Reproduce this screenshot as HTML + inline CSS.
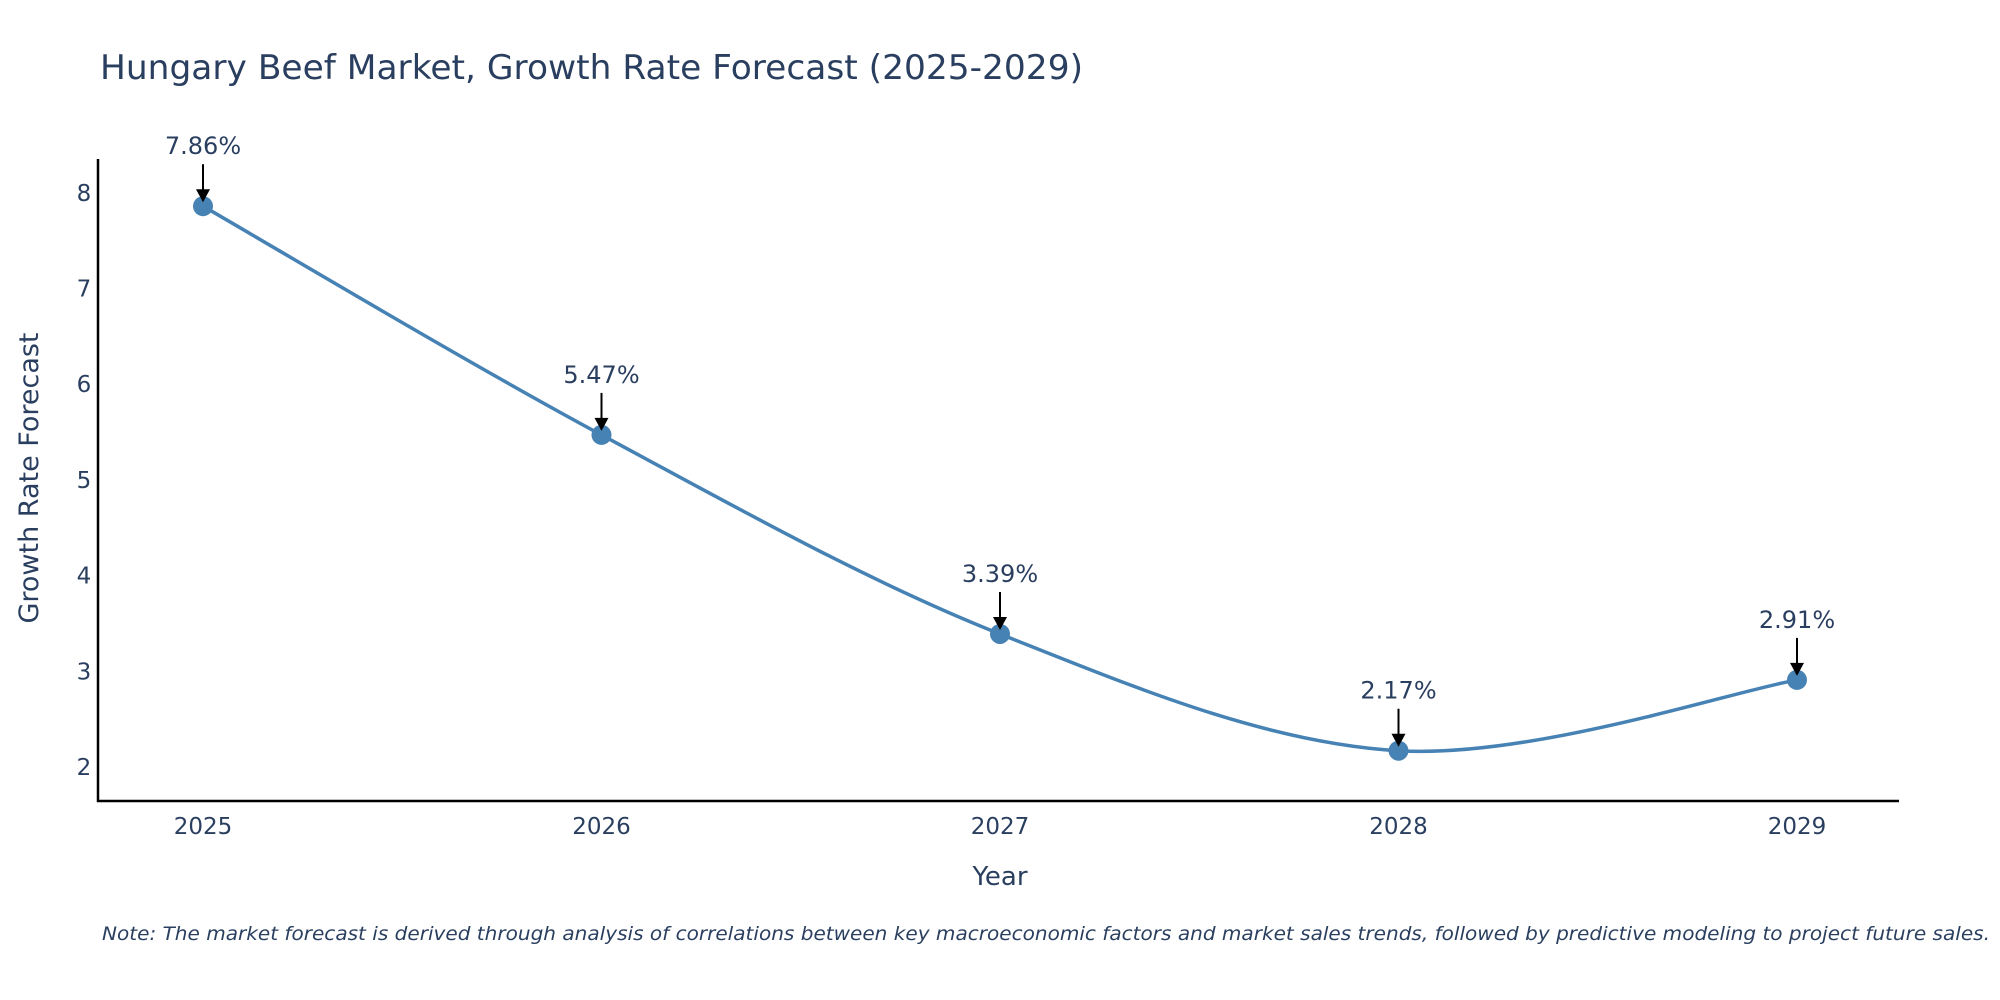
<!DOCTYPE html>
<html><head><meta charset="utf-8"><style>
body{margin:0;background:#fff}
svg{display:block;font-family:"DejaVu Sans","Liberation Sans",sans-serif}
</style></head><body>
<svg id="chart" width="2000" height="1000" xmlns="http://www.w3.org/2000/svg">
<text x="100" y="79" font-size="34" fill="#2a3f5f" textLength="983" lengthAdjust="spacingAndGlyphs">Hungary Beef Market, Growth Rate Forecast (2025-2029)</text>
<g id="yticks"></g><g id="xticks"></g>
<path id="line" fill="none" stroke="#4682B4" stroke-width="3.5"/>
<g id="marks"></g>
<line x1="98" y1="159" x2="98" y2="802" stroke="#000" stroke-width="2.5"/>
<line x1="97" y1="801" x2="1899" y2="801" stroke="#000" stroke-width="2.5"/>
<text x="1000" y="885" font-size="26" fill="#2a3f5f" text-anchor="middle">Year</text>
<text transform="translate(38,478) rotate(-90)" font-size="27" fill="#2a3f5f" text-anchor="middle">Growth Rate Forecast</text>
<text x="102" y="940" font-size="19" font-style="italic" fill="#2a3f5f" textLength="1888" lengthAdjust="spacingAndGlyphs">Note: The market forecast is derived through analysis of correlations between key macroeconomic factors and market sales trends, followed by predictive modeling to project future sales.</text>
</svg>
<script>
const years = [2025, 2026, 2027, 2028, 2029];
const values = [7.86, 5.47, 3.39, 2.17, 2.91];
const labels = ["7.86%", "5.47%", "3.39%", "2.17%", "2.91%"];
const yTicks = [2, 3, 4, 5, 6, 7, 8];
const NS = "http://www.w3.org/2000/svg";
const X = y => 203 + (y - 2025) * (1797 - 203) / 4;
const Y = v => 767 - (v - 2) * 95.7;
function mk(tag, attrs, parent, txt){const e=document.createElementNS(NS,tag);for(const k in attrs)e.setAttribute(k,attrs[k]);if(txt!==undefined)e.textContent=txt;parent.appendChild(e);return e;}
const yt=document.getElementById('yticks'), xt=document.getElementById('xticks'), mg=document.getElementById('marks');
yTicks.forEach(t=>{const e=mk('text',{x:84,y:Y(t)+8,'font-size':23,fill:'#2a3f5f','text-anchor':'middle'},yt,String(t));

});
years.forEach(y=>{const e=mk('text',{x:X(y),y:834,'font-size':23,fill:'#2a3f5f','text-anchor':'middle'},xt,String(y));

});
const pts=years.map((y,i)=>[X(y),Y(values[i])]);
let d=`M${pts[0][0]},${pts[0][1]}`;
const s=1;
for(let i=0;i<pts.length-1;i++){
 const p0=pts[i-1]||pts[i], p1=pts[i], p2=pts[i+1], p3=pts[i+2]||p2;
 const c1=[p1[0]+(p2[0]-p0[0])/6*s, p1[1]+(p2[1]-p0[1])/6*s];
 const c2=[p2[0]-(p3[0]-p1[0])/6*s, p2[1]-(p3[1]-p1[1])/6*s];
 d+=` C${c1[0]},${c1[1]} ${c2[0]},${c2[1]} ${p2[0]},${p2[1]}`;
}
document.getElementById('line').setAttribute('d',d);
pts.forEach((p,i)=>{
 const c=mk('circle',{cx:p[0],cy:p[1],r:10,fill:'#4682B4'},mg);
 
 
 const l=mk('line',{x1:p[0],y1:p[1]-42,x2:p[0],y2:p[1]-14,stroke:'#000','stroke-width':2},mg);
 
 
 const a=mk('polygon',{points:`${p[0]-7},${p[1]-17} ${p[0]+7},${p[1]-17} ${p[0]},${p[1]-4}`,fill:'#000'},mg);
 
 
 const t=mk('text',{x:p[0],y:p[1]-52,'font-size':24,fill:'#2a3f5f','text-anchor':'middle'},mg,labels[i]);
 
 
});
</script>
</body></html>
